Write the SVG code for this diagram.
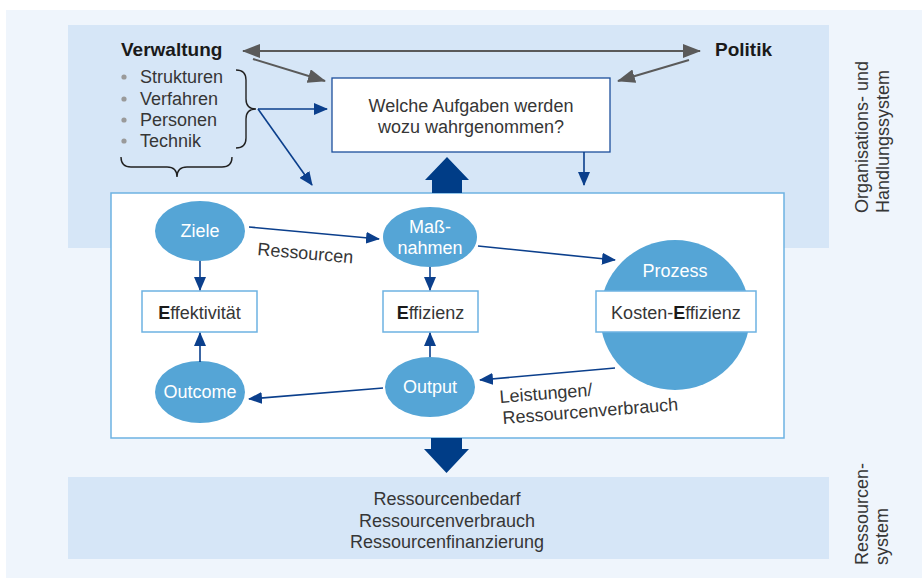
<svg xmlns="http://www.w3.org/2000/svg" width="922" height="578" viewBox="0 0 922 578">
<style>
text{font-family:"Liberation Sans",Arial,sans-serif;font-size:18px;fill:#363636}
.b{font-weight:bold;fill:#1a1a1a}
.h{font-size:19px}
.w{fill:#ffffff}
.c{text-anchor:middle}
.ell{fill:#55a5d6}
.box{fill:#fff;stroke:#6db2e2;stroke-width:1.5}
.ga{stroke:#5a5a5a;stroke-width:2;fill:none}
.ba{stroke:#0b3f8c;stroke-width:1.6;fill:none}
.br{stroke:#222;stroke-width:1.4;fill:none}
</style>
<defs>
<marker id="gh" markerUnits="userSpaceOnUse" markerWidth="18" markerHeight="14" viewBox="0 0 18 14" refX="17" refY="7" orient="auto-start-reverse"><path d="M0,0 L18,7 L0,14 Z" fill="#5a5a5a"/></marker>
<marker id="bh" markerUnits="userSpaceOnUse" markerWidth="14" markerHeight="12" viewBox="0 0 14 12" refX="13" refY="6" orient="auto"><path d="M0,0 L14,6 L0,12 Z" fill="#0b3f8c"/></marker>
</defs>
<rect x="6" y="10" width="916" height="568" fill="#eff5fc"/>
<rect x="68" y="25" width="761" height="223" fill="#d6e6f7"/>
<rect x="68" y="477" width="761" height="82" fill="#d6e6f7"/>
<g id="mainframe"><rect x="111" y="193" width="673" height="245" class="box"/></g>
<g id="verwaltung">
<text x="121" y="56" class="b h">Verwaltung</text>
<circle cx="124" cy="77" r="2.6" fill="#9a9a9a"/><text x="140" y="83">Strukturen</text>
<circle cx="124" cy="99" r="2.6" fill="#9a9a9a"/><text x="140" y="105">Verfahren</text>
<circle cx="124" cy="120" r="2.6" fill="#9a9a9a"/><text x="140" y="126">Personen</text>
<circle cx="124" cy="141" r="2.6" fill="#9a9a9a"/><text x="140" y="147">Technik</text>
<path class="br" d="M236,70 Q246,70 246,80 L246,99 Q246,109 256,109 Q246,109 246,119 L246,138 Q246,148 236,148"/>
<path class="br" d="M121,157 Q121,167 131,167 L167,167 Q177,167 177,177 Q177,167 187,167 L222,167 Q232,167 232,157"/>
</g>
<g id="politik"><text x="715" y="56" class="b h">Politik</text></g>
<g id="frage">
<rect x="332" y="78" width="278" height="74" fill="#fff" stroke="#1c4f9c" stroke-width="1.3"/>
<text x="471" y="112" class="c">Welche Aufgaben werden</text>
<text x="471" y="133" class="c">wozu wahrgenommen?</text>
</g>
<g id="ziele"><ellipse cx="200" cy="231" rx="45" ry="30" class="ell"/><text x="200" y="237" class="c w">Ziele</text></g>
<g id="massnahmen"><ellipse cx="430" cy="237" rx="47" ry="30" class="ell"/><text x="430" y="233" class="c w">Maß-</text><text x="430" y="254" class="c w">nahmen</text></g>
<g id="outcome"><ellipse cx="200" cy="392" rx="45" ry="31" class="ell"/><text x="200" y="398" class="c w">Outcome</text></g>
<g id="output"><ellipse cx="430" cy="387" rx="45" ry="30" class="ell"/><text x="430" y="393" class="c w">Output</text></g>
<g id="prozess"><circle cx="675" cy="315" r="75" class="ell"/><text x="675" y="277" class="c w">Prozess</text></g>
<g id="effektivitaet"><rect x="142" y="291" width="115" height="41" class="box"/><text x="199.5" y="319" class="c"><tspan class="b">E</tspan>ffektivität</text></g>
<g id="effizienz"><rect x="383" y="291" width="95" height="41" class="box"/><text x="430.5" y="319" class="c"><tspan class="b">E</tspan>ffizienz</text></g>
<g id="kosteneffizienz"><rect x="596" y="291" width="160" height="41" class="box"/><text x="676" y="319" class="c">Kosten-<tspan class="b">E</tspan>ffizienz</text></g>
<g id="ressourcensystem">
<text x="447" y="505" class="c">Ressourcenbedarf</text>
<text x="447" y="527" class="c">Ressourcenverbrauch</text>
<text x="447" y="548" class="c">Ressourcenfinanzierung</text>
</g>
<g id="seitenlabels">
<text transform="translate(868,213) rotate(-90)">Organisations- und</text>
<text transform="translate(889,213) rotate(-90)">Handlungssystem</text>
<text transform="translate(868,565) rotate(-90)">Ressourcen-</text>
<text transform="translate(888,565) rotate(-90)">system</text>
</g>
<g id="connectors">
<line class="ga" x1="243" y1="51" x2="700" y2="51" marker-start="url(#gh)" marker-end="url(#gh)"/>
<line class="ga" x1="253" y1="59" x2="325" y2="81" marker-end="url(#gh)"/>
<line class="ga" x1="689" y1="60" x2="618" y2="81" marker-end="url(#gh)"/>
<line class="ba" x1="258" y1="109" x2="327" y2="109" marker-end="url(#bh)"/>
<line class="ba" x1="258" y1="109" x2="312" y2="185" marker-end="url(#bh)"/>
<line class="ba" x1="584" y1="152" x2="584" y2="185" marker-end="url(#bh)"/>
<polygon points="432,193 432,180 425,180 447,157 469,180 462,180 462,193" fill="#003d87"/>
<polygon points="431,438 431,449 424,449 446.5,473 469,449 462,449 462,438" fill="#003d87"/>
<line class="ba" x1="249" y1="227" x2="379" y2="239" marker-end="url(#bh)"/>
<line class="ba" x1="478" y1="246" x2="615" y2="260" marker-end="url(#bh)"/>
<line class="ba" x1="615" y1="368" x2="480" y2="380" marker-end="url(#bh)"/>
<line class="ba" x1="383" y1="388" x2="249" y2="399" marker-end="url(#bh)"/>
<line class="ba" x1="200" y1="261" x2="200" y2="290" marker-end="url(#bh)"/>
<line class="ba" x1="200" y1="362" x2="200" y2="333" marker-end="url(#bh)"/>
<line class="ba" x1="430" y1="267" x2="430" y2="290" marker-end="url(#bh)"/>
<line class="ba" x1="430" y1="357" x2="430" y2="333" marker-end="url(#bh)"/>
<text transform="translate(257,255) rotate(5)">Ressourcen</text>
<text transform="translate(500,403) rotate(-4.5)">Leistungen/</text>
<text transform="translate(503,424) rotate(-4.5)">Ressourcenverbrauch</text>
</g>
</svg>
